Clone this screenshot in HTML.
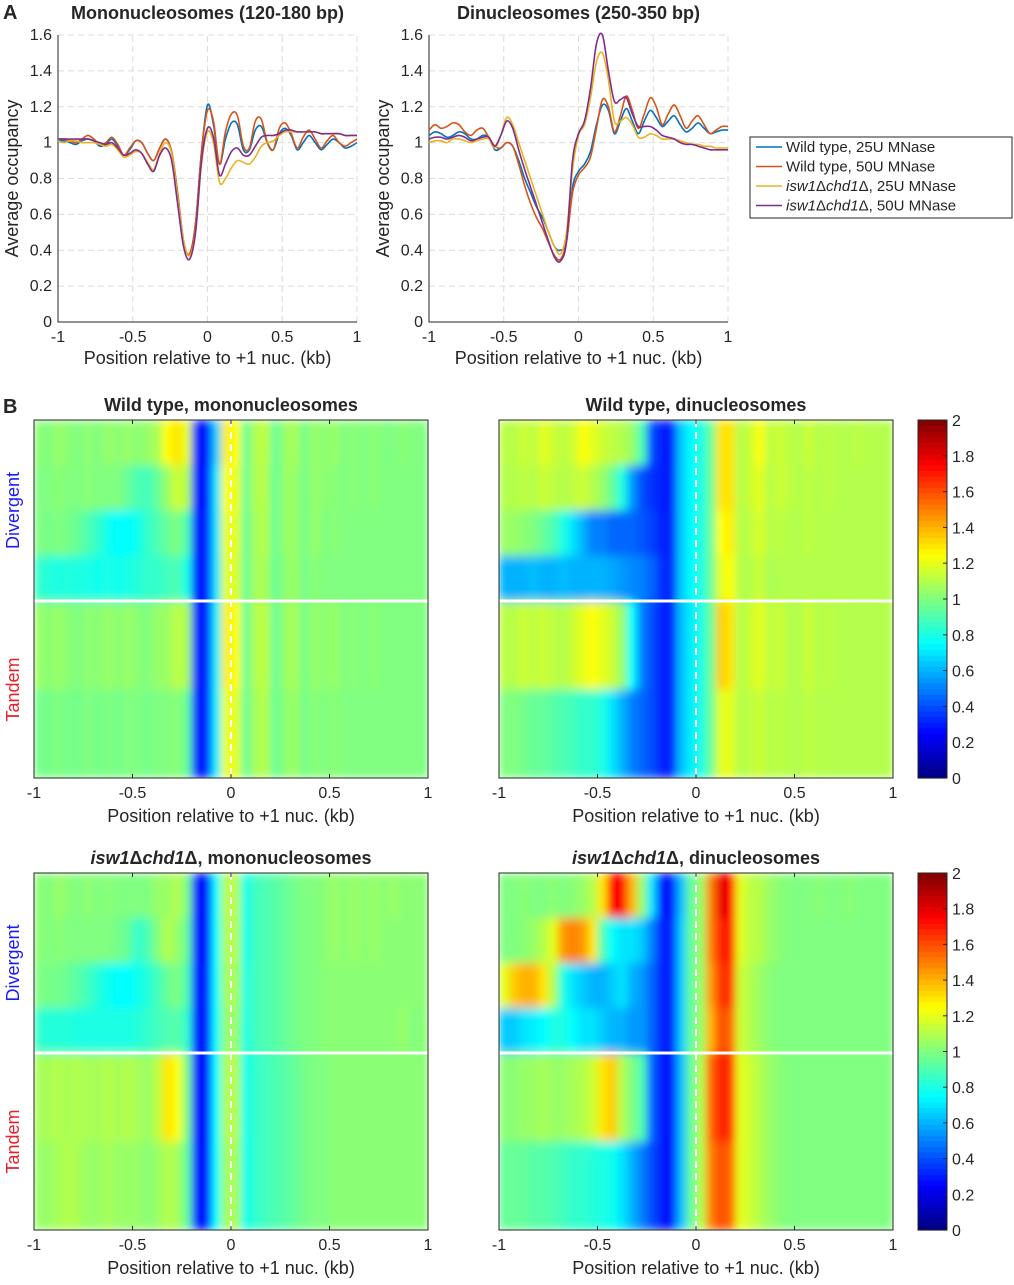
<!DOCTYPE html>
<html><head><meta charset="utf-8"><style>
body{margin:0;background:#fff}
svg text{font-family:"Liberation Sans",sans-serif;fill:#262626}
</style></head><body>
<svg id="fig" width="1014" height="1280" viewBox="0 0 1014 1280" xmlns="http://www.w3.org/2000/svg">
<defs><filter id="soft" x="0" y="0" width="1" height="1"><feGaussianBlur stdDeviation="4 5" edgeMode="duplicate"/></filter></defs>
</svg>
<script>
// ---- Panel A data (x from -1 to 1, step 0.04) ----
const monoWT25=[1.01,1.01,1.0,0.99,1.01,1.02,1.01,0.98,0.99,1.02,0.98,0.93,0.96,1.01,1.0,0.94,0.9,0.97,1.02,0.95,0.72,0.45,0.38,0.55,0.95,1.21,1.1,0.88,1.02,1.11,1.1,0.96,0.96,1.07,1.09,1.0,0.96,1.05,1.08,1.04,0.96,1.0,1.04,1.0,0.96,0.99,1.02,1.0,0.97,0.98,1.0];
const monoWT50=[1.02,1.02,1.01,1.0,1.02,1.04,1.02,0.99,1.0,1.03,0.99,0.93,0.97,1.01,1.0,0.94,0.9,0.97,1.02,0.95,0.72,0.45,0.38,0.55,0.95,1.18,1.12,0.88,1.06,1.16,1.15,0.98,0.97,1.12,1.13,1.0,0.96,1.08,1.11,1.05,0.97,1.03,1.07,1.02,0.97,1.01,1.04,1.0,0.98,1.0,1.02];
const monoMut25=[1.01,1.0,1.01,1.01,1.0,1.0,1.0,0.99,0.98,0.99,0.96,0.92,0.93,0.95,0.94,0.89,0.85,0.94,1.0,0.94,0.7,0.45,0.37,0.5,0.88,1.06,1.0,0.78,0.8,0.86,0.9,0.89,0.88,0.92,0.98,1.0,1.01,1.04,1.06,1.06,1.06,1.06,1.06,1.06,1.05,1.05,1.05,1.05,1.04,1.04,1.04];
const monoMut50=[1.02,1.02,1.02,1.02,1.02,1.02,1.01,1.0,0.99,1.0,0.97,0.93,0.94,0.96,0.94,0.88,0.84,0.93,0.97,0.9,0.66,0.42,0.35,0.5,0.9,1.08,1.03,0.82,0.88,0.95,0.97,0.93,0.93,0.98,1.03,1.04,1.04,1.05,1.07,1.07,1.06,1.06,1.06,1.06,1.05,1.05,1.05,1.05,1.04,1.04,1.04];
const diWT25=[1.04,1.06,1.05,1.03,1.04,1.06,1.05,1.02,1.02,1.04,1.03,0.96,0.97,1.0,0.98,0.9,0.8,0.72,0.64,0.58,0.5,0.42,0.4,0.45,0.75,0.84,0.88,0.95,1.1,1.21,1.18,1.05,1.12,1.19,1.12,1.05,1.12,1.18,1.14,1.09,1.12,1.15,1.1,1.06,1.08,1.11,1.08,1.05,1.06,1.07,1.07];
const diWT50=[1.07,1.1,1.08,1.09,1.11,1.1,1.06,1.04,1.07,1.08,1.03,0.98,0.97,1.0,0.98,0.88,0.76,0.66,0.58,0.52,0.44,0.37,0.35,0.45,0.72,0.82,0.86,0.92,1.08,1.24,1.2,1.06,1.15,1.26,1.18,1.08,1.16,1.25,1.2,1.1,1.16,1.21,1.15,1.08,1.12,1.15,1.1,1.05,1.07,1.09,1.09];
const diMut25=[1.0,1.01,1.01,1.0,1.02,1.02,1.01,1.0,1.01,1.02,1.02,0.97,1.04,1.14,1.1,1.0,0.9,0.8,0.7,0.6,0.5,0.42,0.38,0.5,0.85,1.04,1.1,1.25,1.45,1.5,1.35,1.12,1.12,1.14,1.1,1.03,1.03,1.05,1.04,1.02,1.02,1.02,1.01,1.0,0.99,0.99,0.98,0.98,0.97,0.97,0.97];
const diMut50=[1.02,1.03,1.03,1.02,1.03,1.04,1.03,1.01,1.02,1.03,1.03,0.98,1.04,1.12,1.08,0.96,0.85,0.75,0.65,0.55,0.45,0.36,0.34,0.45,0.9,1.05,1.12,1.3,1.55,1.6,1.4,1.23,1.24,1.25,1.16,1.09,1.09,1.09,1.07,1.04,1.03,1.02,1.0,0.99,0.99,0.98,0.97,0.96,0.96,0.96,0.96];
const lineXTicks=[-1,-0.5,0,0.5,1];
const lineXTickLabels=["-1","-0.5","0","0.5","1"];
const lineYTicks=[0,0.2,0.4,0.6,0.8,1,1.2,1.4,1.6];
const lineYTickLabels=["0","0.2","0.4","0.6","0.8","1","1.2","1.4","1.6"];
const seriesNames=["Wild type, 25U MNase","Wild type, 50U MNase","isw1Δchd1Δ, 25U MNase","isw1Δchd1Δ, 50U MNase"];
// ---- Panel B heatmap data (40 bins of 50 bp; 4 divergent bands, 2 tandem bands) ----
const hmWTmono=[
[1.02,1.0,1.05,1.02,1.0,1.03,1.0,1.05,1.02,1.05,1.02,1.05,1.08,1.25,1.3,1.2,0.3,0.28,0.65,1.28,1.25,0.95,1.1,1.12,0.95,1.05,1.08,0.98,1.05,1.02,1.05,1.0,1.02,1.0,1.02,1.0,1.0,1.02,1.0,1.0],
[1.0,1.0,1.02,1.0,1.0,1.02,1.0,1.0,1.0,0.95,0.9,0.88,0.95,1.05,1.15,1.1,0.3,0.28,0.7,1.25,1.22,0.95,1.1,1.1,0.95,1.05,1.05,0.98,1.05,1.02,1.02,1.0,1.02,1.0,1.02,1.0,1.0,1.0,1.0,1.0],
[1.0,0.98,1.0,0.98,0.95,0.9,0.85,0.78,0.75,0.75,0.78,0.85,0.9,0.95,1.0,0.9,0.3,0.3,0.7,1.22,1.2,0.95,1.08,1.1,0.95,1.05,1.05,0.98,1.05,1.0,1.02,1.0,1.0,1.0,1.0,1.0,1.0,1.0,1.0,1.0],
[0.85,0.82,0.8,0.82,0.8,0.8,0.78,0.8,0.78,0.8,0.82,0.85,0.85,0.88,0.9,0.8,0.3,0.3,0.7,1.2,1.18,0.95,1.08,1.08,0.95,1.03,1.05,0.98,1.02,1.0,1.0,1.0,1.0,1.0,1.0,1.0,1.0,1.0,1.0,1.0],
[1.05,1.02,1.05,1.02,1.0,1.03,1.02,1.05,1.02,1.05,1.02,1.0,1.05,1.05,1.12,1.08,0.32,0.3,0.72,1.28,1.25,0.95,1.1,1.12,0.95,1.05,1.08,0.98,1.05,1.02,1.05,1.0,1.02,1.0,1.02,1.0,1.0,1.0,1.0,1.0],
[0.98,0.98,1.0,0.98,0.98,1.0,0.98,1.0,0.98,1.0,1.0,0.98,1.0,1.0,1.02,0.95,0.32,0.3,0.72,1.22,1.2,0.95,1.08,1.1,0.95,1.03,1.05,0.98,1.02,1.0,1.02,1.0,1.0,1.0,1.0,1.0,1.0,1.0,1.0,1.0]];
const hmWTdi=[
[1.12,1.1,1.15,1.12,1.2,1.15,1.12,1.15,1.25,1.2,1.15,1.12,1.1,1.05,0.9,0.4,0.3,0.3,0.65,0.75,0.8,0.95,1.3,1.3,1.1,1.15,1.25,1.12,1.15,1.12,1.1,1.15,1.1,1.12,1.1,1.1,1.12,1.1,1.1,1.1],
[1.1,1.1,1.12,1.1,1.15,1.12,1.1,1.12,1.15,1.1,1.05,0.95,0.8,0.55,0.4,0.35,0.3,0.3,0.65,0.75,0.8,0.95,1.3,1.3,1.1,1.15,1.2,1.1,1.15,1.12,1.1,1.12,1.1,1.12,1.1,1.1,1.1,1.1,1.1,1.1],
[1.05,1.05,1.02,1.0,0.95,0.9,0.8,0.7,0.6,0.5,0.5,0.45,0.45,0.45,0.42,0.38,0.32,0.3,0.65,0.75,0.8,0.95,1.25,1.28,1.1,1.12,1.18,1.1,1.12,1.1,1.1,1.12,1.1,1.1,1.1,1.1,1.1,1.1,1.1,1.1],
[0.6,0.6,0.6,0.62,0.6,0.6,0.62,0.6,0.6,0.6,0.6,0.58,0.55,0.52,0.5,0.45,0.35,0.3,0.65,0.75,0.8,0.95,1.2,1.25,1.1,1.1,1.15,1.08,1.1,1.1,1.1,1.1,1.1,1.1,1.1,1.1,1.1,1.1,1.1,1.1],
[1.12,1.1,1.15,1.12,1.15,1.12,1.1,1.15,1.2,1.25,1.2,1.15,1.05,0.75,0.5,0.4,0.32,0.3,0.62,0.72,0.8,0.95,1.35,1.3,1.1,1.15,1.2,1.12,1.15,1.1,1.1,1.15,1.1,1.12,1.1,1.1,1.1,1.1,1.1,1.1],
[1.0,1.0,0.98,0.95,0.95,0.92,0.9,0.88,0.85,0.85,0.8,0.7,0.6,0.5,0.45,0.4,0.32,0.3,0.62,0.72,0.8,0.95,1.2,1.2,1.1,1.12,1.15,1.1,1.12,1.1,1.1,1.12,1.1,1.1,1.1,1.1,1.1,1.1,1.1,1.1]];
const hmMutMono=[
[1.02,1.0,1.05,1.02,1.0,1.03,1.0,1.02,1.0,1.0,1.0,1.0,1.05,1.05,1.1,1.0,0.3,0.28,0.75,1.12,1.1,0.78,0.88,0.9,0.92,0.95,0.98,1.0,1.0,1.02,1.05,1.02,1.05,1.02,1.05,1.02,1.05,1.02,1.02,1.02],
[1.02,1.0,1.02,1.0,1.0,1.0,1.0,1.0,0.98,0.95,0.85,0.9,1.0,1.1,1.05,0.95,0.3,0.28,0.75,1.1,1.1,0.78,0.88,0.9,0.92,0.95,0.98,1.0,1.0,1.02,1.05,1.02,1.05,1.02,1.05,1.02,1.02,1.02,1.02,1.02],
[1.0,0.98,0.98,0.95,0.92,0.88,0.82,0.78,0.75,0.75,0.78,0.82,0.88,0.95,1.0,0.9,0.3,0.3,0.75,1.08,1.08,0.8,0.88,0.9,0.92,0.95,0.98,1.0,1.0,1.02,1.02,1.02,1.02,1.02,1.02,1.02,1.02,1.02,1.02,1.02],
[0.85,0.82,0.82,0.82,0.8,0.8,0.8,0.8,0.8,0.8,0.82,0.85,0.88,0.9,0.92,0.85,0.3,0.3,0.75,1.05,1.05,0.8,0.88,0.9,0.92,0.95,0.98,1.0,1.0,1.02,1.02,1.02,1.02,1.02,1.02,1.02,1.02,1.05,1.0,1.02],
[1.08,1.08,1.1,1.08,1.1,1.08,1.08,1.1,1.08,1.1,1.08,1.05,1.12,1.3,1.25,1.0,0.3,0.28,0.75,1.1,1.1,0.78,0.85,0.88,0.9,0.92,0.95,0.98,1.0,1.0,1.02,1.02,1.02,1.02,1.02,1.02,1.02,1.02,1.02,1.02],
[1.05,1.05,1.08,1.1,1.08,1.05,1.05,1.08,1.05,1.05,1.05,1.02,1.05,1.1,1.08,0.95,0.3,0.28,0.75,1.08,1.08,0.78,0.85,0.88,0.9,0.92,0.95,0.98,1.0,1.0,1.02,1.02,1.02,1.02,1.02,1.02,1.02,1.02,1.02,1.02]];
const hmMutDi=[
[1.0,1.0,1.02,1.0,1.0,1.02,1.0,1.02,1.05,1.1,1.3,1.75,1.75,1.4,1.05,0.7,0.3,0.28,0.62,0.95,1.05,1.5,1.8,1.75,1.2,1.12,1.1,1.05,1.02,1.0,1.0,1.0,1.02,1.0,1.0,1.02,1.0,1.0,1.0,1.0],
[1.0,1.0,1.02,1.05,1.1,1.2,1.45,1.5,1.45,1.3,0.9,0.75,0.7,0.7,0.65,0.5,0.32,0.3,0.65,0.95,1.05,1.5,1.7,1.7,1.2,1.12,1.1,1.05,1.02,1.0,1.0,1.0,1.0,1.0,1.0,1.0,1.0,1.0,1.0,1.0],
[1.2,1.35,1.4,1.4,1.3,1.1,0.8,0.7,0.65,0.6,0.6,0.65,0.7,0.6,0.55,0.45,0.32,0.3,0.65,0.95,1.05,1.45,1.65,1.65,1.15,1.1,1.05,1.02,1.0,1.0,1.0,1.0,1.0,1.0,1.0,1.0,1.0,1.0,1.0,1.0],
[0.65,0.65,0.7,0.72,0.75,0.8,0.8,0.75,0.7,0.7,0.65,0.6,0.6,0.55,0.55,0.45,0.32,0.3,0.65,0.95,1.05,1.4,1.6,1.55,1.15,1.1,1.05,1.02,1.0,1.0,1.0,1.0,1.0,1.0,1.0,1.0,1.0,1.0,1.0,1.0],
[1.02,1.02,1.05,1.05,1.08,1.05,1.05,1.08,1.1,1.15,1.3,1.35,1.1,1.0,0.9,0.45,0.3,0.28,0.62,0.95,1.1,1.55,1.7,1.65,1.2,1.15,1.1,1.05,1.02,1.0,1.0,1.0,1.0,1.0,1.0,1.0,1.0,1.0,1.0,1.0],
[0.95,0.95,0.95,0.92,0.92,0.9,0.88,0.85,0.85,0.82,0.8,0.78,0.7,0.6,0.5,0.4,0.3,0.28,0.62,0.95,1.1,1.5,1.6,1.55,1.2,1.15,1.1,1.05,1.02,1.0,1.0,1.0,1.0,1.0,1.0,1.0,1.0,1.0,1.0,1.0]];
const cbTicks=[0,0.2,0.4,0.6,0.8,1,1.2,1.4,1.6,1.8,2];
const cbTickLabels=["0","0.2","0.4","0.6","0.8","1","1.2","1.4","1.6","1.8","2"];

const NS="http://www.w3.org/2000/svg";
const svg=document.getElementById('fig');
const defs=svg.querySelector('defs');
function mk(tag,attrs,parent,txt){const e=document.createElementNS(NS,tag);for(const k in attrs)e.setAttribute(k,attrs[k]);if(txt!==undefined)e.textContent=txt;(parent||svg).appendChild(e);return e;}
const colors=["#0072BD","#D95319","#EDB120","#7E2F8E"];
function jet(v){const t=Math.max(0,Math.min(1,v/2));const c=x=>Math.round(255*Math.max(0,Math.min(1,1.5-Math.abs(4*t-x))));return `rgb(${c(3)},${c(2)},${c(1)})`;}

function lineChart(x0,x1,title,series,name){
  const g=mk('g',{});
  
  
  const y0=322,y1=35;
  const sx=v=>x0+(v+1)/2*(x1-x0), sy=v=>y0-v/1.6*(y0-y1);
  lineYTicks.forEach((t,i)=>{
    if(t>0){const l=mk('line',{x1:x0,x2:x1,y1:sy(t),y2:sy(t),stroke:'#dcdcdc','stroke-dasharray':'6,4'},g);}
    const tx=mk('text',{x:x0-6,y:sy(t)+5,'text-anchor':'end','font-size':16},g,lineYTickLabels[i]);
    
  });
  lineXTicks.forEach((t,i)=>{
    if(t>-1){const l=mk('line',{x1:sx(t),x2:sx(t),y1:y0,y2:y1,stroke:'#dcdcdc','stroke-dasharray':'6,4'},g);}
    const tx=mk('text',{x:sx(t),y:y0+20,'text-anchor':'middle','font-size':16},g,lineXTickLabels[i]);
    
  });
  const ax=mk('path',{d:`M${x0},${y1}V${y0}H${x1}`,stroke:'#262626',fill:'none','stroke-width':1},g);
  
  series.forEach((s,si)=>{
    const pts=s.map((v,i)=>[sx(-1+0.04*i),sy(v)]);
    let d=`M${pts[0][0]},${pts[0][1]}`;
    for(let i=0;i<pts.length-1;i++){const p0=pts[Math.max(0,i-1)],p1=pts[i],p2=pts[i+1],p3=pts[Math.min(pts.length-1,i+2)];
      d+=`C${p1[0]+(p2[0]-p0[0])/6},${p1[1]+(p2[1]-p0[1])/6} ${p2[0]-(p3[0]-p1[0])/6},${p2[1]-(p3[1]-p1[1])/6} ${p2[0]},${p2[1]}`;}
    const p=mk('path',{d,stroke:colors[si],fill:'none','stroke-width':1.6},g);
    
  });
  const t=mk('text',{x:(x0+x1)/2,y:19,'text-anchor':'middle','font-size':18,'font-weight':'bold',fill:'#000'},g,title);
  
  const xl=mk('text',{x:(x0+x1)/2,y:364,'text-anchor':'middle','font-size':18},g,'Position relative to +1 nuc. (kb)');
  
  const yl=mk('text',{x:0,y:0,'text-anchor':'middle','font-size':18,transform:`translate(${x0-40},${(y0+y1)/2}) rotate(-90)`},g,'Average occupancy');
  
}
lineChart(58,357,'Mononucleosomes (120-180 bp)',[monoWT25,monoWT50,monoMut25,monoMut50],'mono-line-chart');
lineChart(429,728,'Dinucleosomes (250-350 bp)',[diWT25,diWT50,diMut25,diMut50],'di-line-chart');

// legend
const lg=mk('g',{});

const lb=mk('rect',{x:750,y:137,width:262,height:81,fill:'#fff',stroke:'#262626','stroke-width':1},lg);

seriesNames.forEach((n,i)=>{
  const y=147+i*19.5;
  const l=mk('line',{x1:756,x2:782,y1:y,y2:y,stroke:colors[i],'stroke-width':1.6},lg);
  
  const t=mk('text',{x:786,y:y+5,'font-size':15},lg);
  
  if(i<2){t.textContent=n;}else{
    mk('tspan',{'font-style':'italic'},t,'isw1');mk('tspan',{},t,'Δ');mk('tspan',{'font-style':'italic'},t,'chd1');mk('tspan',{},t,n.slice(n.indexOf('chd1')+4));
  }
});

const pa=mk('text',{x:3,y:19,'font-size':20,'font-weight':'bold',fill:'#000'},svg,'A');

const pb=mk('text',{x:3,y:413,'font-size':20,'font-weight':'bold',fill:'#000'},svg,'B');


let clipId=0;
function heatmap(x0,x1,y0,y1,ySplit,data,titleParts,name,groupLabels){
  const g=mk('g',{});
  
  const cid='clip'+(clipId++);
  const cp=mk('clipPath',{id:cid},defs);
  mk('rect',{x:x0,y:y0,width:x1-x0,height:y1-y0},cp);
  const cg=mk('g',{'clip-path':`url(#${cid})`},g);
  const cells=mk('g',{filter:'url(#soft)'},cg);
  const nC=data[0].length, cw=(x1-x0)/nC;
  const dh=(ySplit-y0)/4, th=(y1-ySplit)/2;
  data.forEach((row,ri)=>{
    const ry=ri<4?y0+ri*dh:ySplit+(ri-4)*th, rh=ri<4?dh:th;
    row.forEach((v,ci)=>{
      const r=mk('rect',{x:x0+ci*cw,y:ry,width:cw+0.6,height:rh+0.6,fill:jet(v)},cells);
      
    });
  });
  const sx=v=>x0+(v+1)/2*(x1-x0);
  const sep=mk('line',{x1:x0,x2:x1,y1:ySplit,y2:ySplit,stroke:'#fff','stroke-width':3},g);
  
  const zl=mk('line',{x1:sx(0),x2:sx(0),y1:y0,y2:y1,stroke:'#fff','stroke-width':2,'stroke-dasharray':'7,5'},g);
  
  const bx=mk('rect',{x:x0,y:y0,width:x1-x0,height:y1-y0,fill:'none',stroke:'#262626'},g);
  
  lineXTicks.forEach((t,i)=>{
    const tk=mk('path',{d:`M${sx(t)},${y0}v4M${sx(t)},${y1}v-4`,stroke:'#262626'},g);
    
    const tx=mk('text',{x:sx(t),y:y1+20,'text-anchor':'middle','font-size':16},g,lineXTickLabels[i]);
    
  });
  const xl=mk('text',{x:(x0+x1)/2,y:y1+44,'text-anchor':'middle','font-size':18},g,'Position relative to +1 nuc. (kb)');
  
  const t=mk('text',{x:(x0+x1)/2,y:y0-9,'text-anchor':'middle','font-size':18,'font-weight':'bold',fill:'#000'},g);
  
  titleParts.forEach(p=>mk('tspan',p[1]?{'font-style':'italic'}:{},t,p[0]));
  if(groupLabels){
    const d=mk('text',{x:0,y:0,'text-anchor':'middle','font-size':18,style:'fill:#1a1aff',transform:`translate(19,${(y0+ySplit)/2}) rotate(-90)`},g,'Divergent');
    
    const tn=mk('text',{x:0,y:0,'text-anchor':'middle','font-size':18,style:'fill:#e8202a',transform:`translate(19,${(ySplit+y1)/2}) rotate(-90)`},g,'Tandem');
    
  }
}
heatmap(34,428,420,778,601,hmWTmono,[['Wild type, mononucleosomes',false]],'wt-mono-heatmap',true);
heatmap(499,893,420,778,601,hmWTdi,[['Wild type, dinucleosomes',false]],'wt-di-heatmap',false);
heatmap(34,428,873,1230,1053,hmMutMono,[['isw1',true],['Δ',false],['chd1',true],['Δ, mononucleosomes',false]],'mut-mono-heatmap',true);
heatmap(499,893,873,1230,1053,hmMutDi,[['isw1',true],['Δ',false],['chd1',true],['Δ, dinucleosomes',false]],'mut-di-heatmap',false);

function colorbar(y0,y1,name){
  const g=mk('g',{});
  
  const x0=918,w=29,n=64;
  for(let i=0;i<n;i++){
    const r=mk('rect',{x:x0,y:y1-(i+1)*(y1-y0)/n,width:w,height:(y1-y0)/n+0.6,fill:jet(2*(i+0.5)/n)},g);
    
  }
  const f=mk('rect',{x:x0,y:y0,width:w,height:y1-y0,fill:'none',stroke:'#262626'},g);
  
  cbTicks.forEach((t,i)=>{
    const y=y1-t/2*(y1-y0);
    const tk=mk('path',{d:`M${x0+w-4},${y}h4`,stroke:'#262626'},g);
    
    const tx=mk('text',{x:x0+w+5,y:y+6,'font-size':16},g,cbTickLabels[i]);
    
  });
}
colorbar(420,778,'colorbar-top');
colorbar(873,1230,'colorbar-bottom');
</script>
</body></html>
